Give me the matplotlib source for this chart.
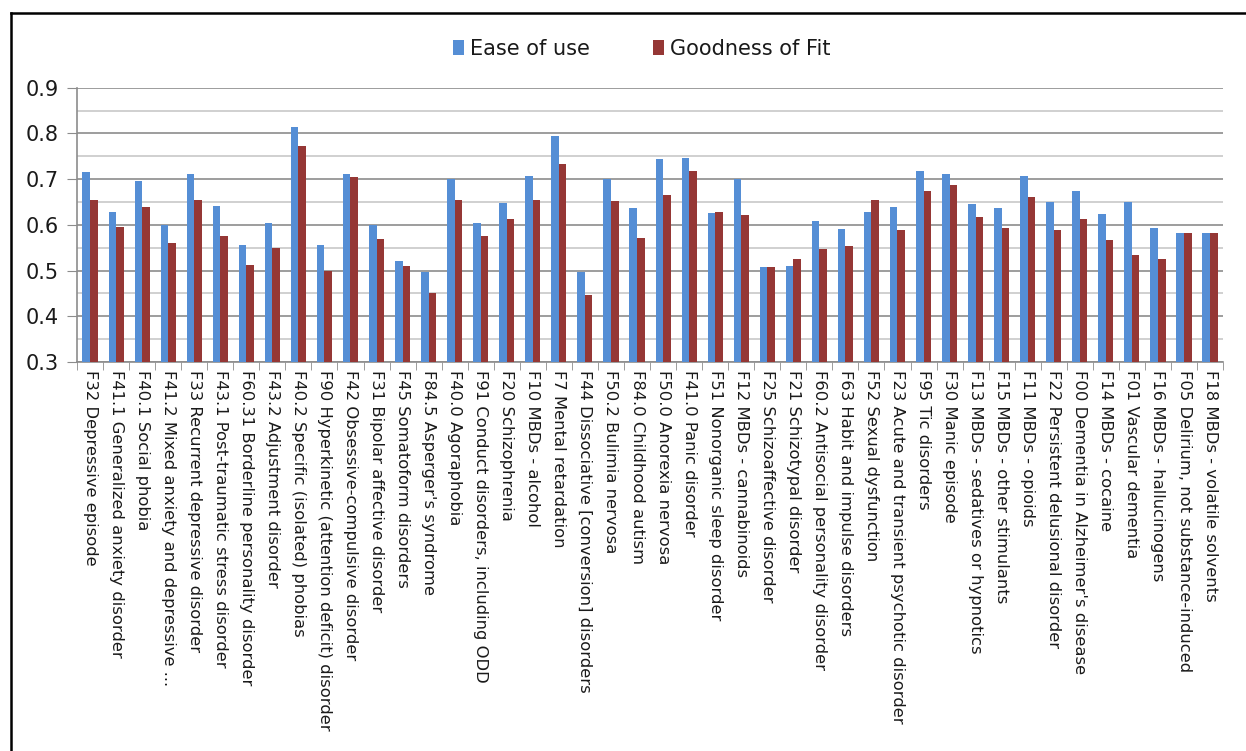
import matplotlib.pyplot as plt
import numpy as np
from matplotlib.lines import Line2D

plt.rcParams['font.family'] = ['DejaVu Sans']

categories = [
    'F32 Depressive episode', 'F41.1 Generalized anxiety disorder', 'F40.1 Social phobia',
    'F41.2 Mixed anxiety and depressive ...', 'F33 Recurrent depressive disorder',
    'F43.1 Post-traumatic stress disorder', 'F60.31 Borderline personality disorder',
    'F43.2 Adjustment disorder', 'F40.2 Specific (isolated) phobias',
    'F90 Hyperkinetic (attention deficit) disorder', 'F42 Obsessive-compulsive disorder',
    'F31 Bipolar affective disorder', 'F45 Somatoform disorders', "F84.5 Asperger's syndrome",
    'F40.0 Agoraphobia', 'F91 Conduct disorders, including ODD', 'F20 Schizophrenia',
    'F10 MBDs - alcohol', 'F7 Mental retardation', 'F44 Dissociative [conversion] disorders',
    'F50.2 Bulimia nervosa', 'F84.0 Childhood autism', 'F50.0 Anorexia nervosa',
    'F41.0 Panic disorder', 'F51 Nonorganic sleep disorder', 'F12 MBDs - cannabinoids',
    'F25 Schizoaffective disorder', 'F21 Schizotypal disorder',
    'F60.2 Antisocial personality disorder', 'F63 Habit and impulse disorders',
    'F52 Sexual dysfunction', 'F23 Acute and transient psychotic disorder',
    'F95 Tic disorders', 'F30 Manic episode', 'F13 MBDs - sedatives or hypnotics',
    'F15 MBDs - other stimulants', 'F11 MBDs - opioids', 'F22 Persistent delusional disorder',
    "F00 Dementia in Alzheimer's disease", 'F14 MBDs - cocaine', 'F01 Vascular dementia',
    'F16 MBDs - hallucinogens', 'F05 Delirium, not substance-induced',
    'F18 MBDs - volatile solvents',
]

ease_of_use = [0.715, 0.628, 0.695, 0.600, 0.712, 0.642, 0.555, 0.603, 0.815, 0.555,
               0.712, 0.600, 0.522, 0.497, 0.700, 0.605, 0.648, 0.707, 0.795, 0.497,
               0.700, 0.637, 0.743, 0.746, 0.625, 0.700, 0.508, 0.511, 0.608, 0.592,
               0.628, 0.640, 0.718, 0.712, 0.645, 0.637, 0.707, 0.650, 0.675, 0.623,
               0.650, 0.594, 0.583, 0.583]

goodness_of_fit = [0.655, 0.595, 0.640, 0.560, 0.655, 0.575, 0.513, 0.550, 0.773, 0.500,
                   0.705, 0.570, 0.510, 0.452, 0.655, 0.575, 0.612, 0.654, 0.733, 0.446,
                   0.653, 0.572, 0.665, 0.718, 0.628, 0.622, 0.508, 0.525, 0.547, 0.553,
                   0.655, 0.589, 0.673, 0.687, 0.617, 0.594, 0.660, 0.589, 0.612, 0.566,
                   0.533, 0.525, 0.583, 0.583]

blue = '#558ed5'
red = '#953735'
txt = '#1a1a1a'

fig = plt.figure(figsize=(12.46, 7.51), dpi=100)
ax = fig.add_axes([0.0618, 0.518, 0.9198, 0.3652])

x = np.arange(len(categories))
w = 0.29
ax.bar(x - w / 2, ease_of_use, w, color=blue, label='Ease of use', zorder=3)
ax.bar(x + w / 2, goodness_of_fit, w, color=red, label='Goodness of Fit', zorder=3)

ax.set_xlim(-0.5, len(categories) - 0.5)
ax.set_ylim(0.3, 0.9)
yt = np.arange(0.3, 0.91, 0.1)
ax.set_yticks(yt)
ax.set_yticklabels(['%.1f' % v for v in yt], fontsize=15, color=txt)
ax.set_yticks(np.arange(0.35, 0.9, 0.1), minor=True)
ax.grid(axis='y', which='major', color='#8c8c8c', lw=1.2, zorder=0)
ax.grid(axis='y', which='minor', color='#c8c8c8', lw=1.2, zorder=0)
ax.tick_params(axis='y', which='major', length=7, color='#8c8c8c', pad=6)
ax.tick_params(axis='y', which='minor', length=0)

ax.set_xticks(x)
ax.set_xticklabels(categories, rotation=-90, fontsize=11.8, va='top', ha='center', color=txt)
ax.set_xticks(np.arange(-0.5, len(categories), 1), minor=True)
ax.tick_params(axis='x', which='major', length=0, pad=6)
ax.tick_params(axis='x', which='minor', length=6, color='#8c8c8c')

for s in ['top', 'right']:
    ax.spines[s].set_visible(False)
for s in ['left', 'bottom']:
    ax.spines[s].set_color('#8c8c8c')
    ax.spines[s].set_linewidth(1.2)

leg = fig.legend(loc='center', bbox_to_anchor=(0.515, 0.935), ncol=2, frameon=False,
                 fontsize=15, handlelength=0.55, handleheight=0.7, handletextpad=0.3,
                 columnspacing=3.0)
for t in leg.get_texts():
    t.set_color(txt)

# frame lines like the original screenshot
fig.add_artist(Line2D([11 / 1246, 11 / 1246], [0, 1 - 13 / 751], color='black', lw=1.8))
fig.add_artist(Line2D([11 / 1246, 1], [1 - 13 / 751, 1 - 13 / 751], color='black', lw=1.8))

fig.savefig('out.png', dpi=100)
